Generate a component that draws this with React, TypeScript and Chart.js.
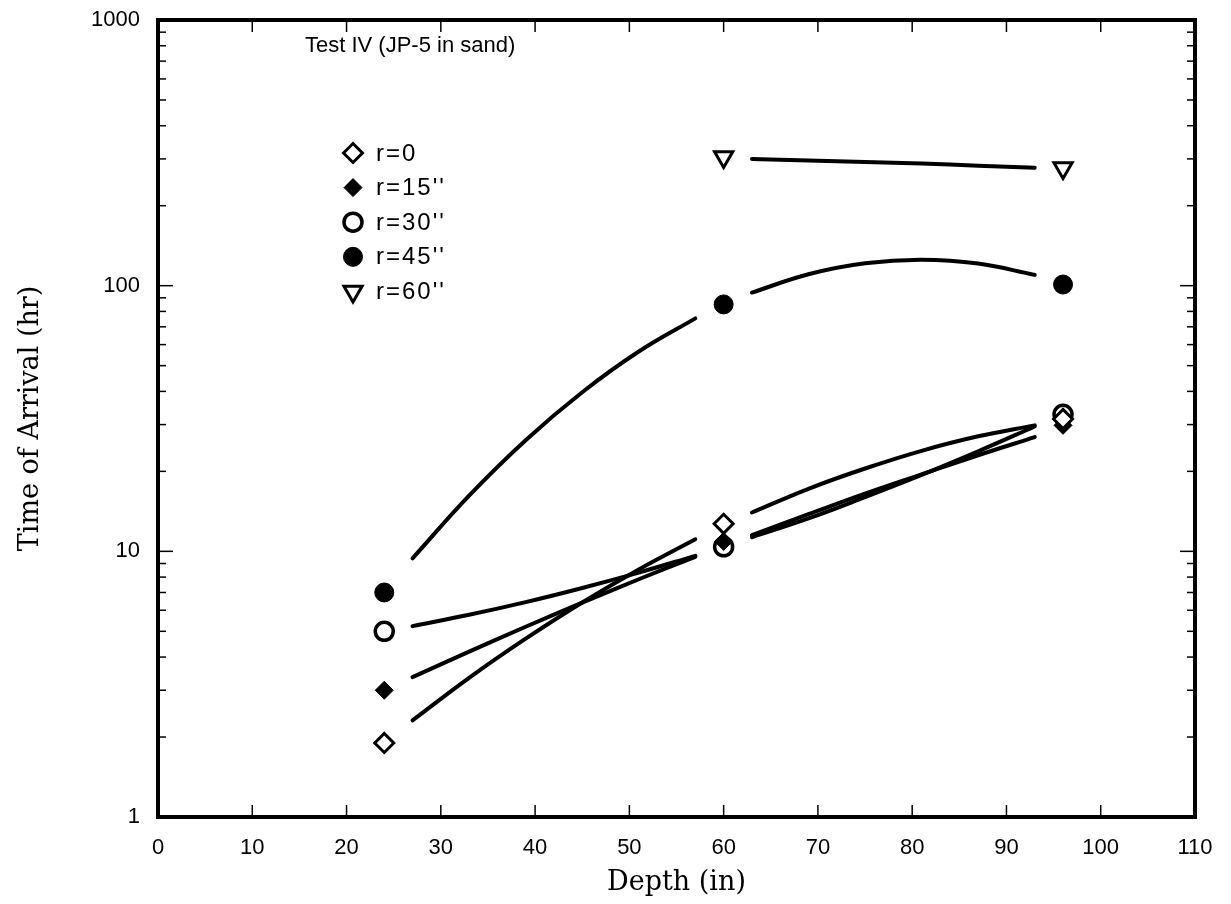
import React, { useEffect, useRef } from 'react';
import { Chart, registerables } from 'chart.js';
import { drawPoint } from 'chart.js/helpers';

Chart.register(...registerables);

// ---- data ----
const DEPTHS = [24, 60, 96];
const R0_VALUES = [1.9, 12.7, 31.5];
const R15_VALUES = [3.0, 10.9, 29.8];
const R30_VALUES = [5.0, 10.4, 32.8];
const R45_VALUES = [7.0, 85, 101];
const R60_DEPTHS = [60, 96];
const R60_VALUES = [305, 277];

// fitted curves drawn between the markers
const CURVE_X_LEFT = [27, 33, 39, 45, 51, 57];
const CURVE_X_RIGHT = [63, 69, 75, 81, 87, 93];
const R0_CURVE_LEFT = [2.31, 3.34, 4.69, 6.42, 8.55, 11.1];
const R0_CURVE_RIGHT = [14.0, 17.2, 20.5, 23.9, 27.1, 29.8];
const R15_CURVE_LEFT = [3.36, 4.19, 5.2, 6.41, 7.85, 9.54];
const R15_CURVE_RIGHT = [11.5, 13.8, 16.5, 19.5, 23.0, 26.9];
const R30_CURVE_LEFT = [5.23, 5.77, 6.44, 7.28, 8.32, 9.62];
const R30_CURVE_RIGHT = [11.3, 13.3, 16.0, 19.4, 23.8, 29.5];
const R45_CURVE_LEFT = [9.41, 16.2, 26.2, 39.7, 56.5, 75.3];
const R45_CURVE_RIGHT = [94.2, 110.4, 121.4, 125.2, 121.1, 109.8];
const R60_CURVE_RIGHT = [300, 296, 292, 288, 283, 278];

const SERIES_LABELS = ['r=0', 'r=15\'\'', 'r=30\'\'', 'r=45\'\'', 'r=60\'\''];
const ANNOTATION = 'Test IV (JP-5 in sand)';
const X_TITLE = 'Depth (in)';
const Y_TITLE = 'Time of Arrival (hr)';

const X_TICKS = [0, 10, 20, 30, 40, 50, 60, 70, 80, 90, 100, 110];
const Y_MAJOR = [1, 10, 100, 1000];
const Y_MINOR_FACTORS = [2, 3, 4, 5, 6, 7, 8, 9];

// ---- styles ----
const MARKER_STYLES = [
  { pointStyle: 'rectRot', radius: 9.5, borderWidth: 3, fill: '#fff', rotation: 0 },
  { pointStyle: 'rectRot', radius: 9, borderWidth: 1, fill: '#000', rotation: 0 },
  { pointStyle: 'circle', radius: 9, borderWidth: 3.5, fill: '#fff', rotation: 0 },
  { pointStyle: 'circle', radius: 9.5, borderWidth: 1, fill: '#000', rotation: 0 },
  { pointStyle: 'triangle', radius: 10.5, borderWidth: 3, fill: '#fff', rotation: 180 },
];
const MARKER_ORDER = [0, 1, 2, 3, 3];

const TICK_FONT = { family: '"Liberation Sans", Arial, sans-serif', size: 22 };
const LEGEND_FONT = '24px "Liberation Sans", Arial, sans-serif';
const ANNOTATION_FONT = '22px "Liberation Sans", Arial, sans-serif';
const TITLE_FONT = { family: '"DejaVu Serif", serif', size: 27 };

const pairs = (xs: number[], ys: (number | null)[]) => xs.map((x, i) => ({ x, y: ys[i] }));
const curve = (left: number[] | null, right: number[]) => [
  ...(left ? pairs(CURVE_X_LEFT, left) : []),
  ...(left ? [{ x: 60, y: null }] : []),
  ...pairs(CURVE_X_RIGHT, right),
];

const framePlugin = {
  id: 'frameTicks',
  afterDatasetsDraw(chart: any) {
    const { ctx, chartArea: a, scales } = chart;
    const x = scales.x;
    const y = scales.y;
    ctx.save();
    ctx.strokeStyle = '#000';
    ctx.lineCap = 'butt';
    const seg = (x1: number, y1: number, x2: number, y2: number, w: number) => {
      ctx.lineWidth = w;
      ctx.beginPath();
      ctx.moveTo(x1, y1);
      ctx.lineTo(x2, y2);
      ctx.stroke();
    };
    X_TICKS.forEach((v) => {
      const px = x.getPixelForValue(v);
      seg(px, a.bottom, px, a.bottom - 12, 1.5);
      seg(px, a.top, px, a.top + 12, 1.5);
    });
    Y_MAJOR.forEach((d) => {
      const py = y.getPixelForValue(d);
      seg(a.left, py, a.left + 15, py, 1.5);
      seg(a.right, py, a.right - 15, py, 1.5);
      if (d < 1000) {
        Y_MINOR_FACTORS.forEach((f) => {
          const pm = y.getPixelForValue(d * f);
          seg(a.left, pm, a.left + 8, pm, 1.5);
          seg(a.right, pm, a.right - 8, pm, 1.5);
        });
      }
    });
    ctx.lineWidth = 4;
    ctx.lineJoin = 'miter';
    ctx.strokeRect(a.left, a.top, a.right - a.left, a.bottom - a.top);
    ctx.restore();
  },
};

const labelPlugin = {
  id: 'labels',
  afterDraw(chart: any) {
    const { ctx, chartArea: a } = chart;
    ctx.save();
    ctx.fillStyle = '#000';
    ctx.font = ANNOTATION_FONT;
    ctx.textBaseline = 'middle';
    ctx.textAlign = 'left';
    ctx.fillText(ANNOTATION, a.left + 147, a.top + 26);
    const mx = a.left + 195;
    const ty = a.top + 133;
    ctx.font = LEGEND_FONT;
    (ctx as any).letterSpacing = '2px';
    SERIES_LABELS.forEach((label, i) => {
      const st = MARKER_STYLES[i];
      const py = ty + i * 34.6;
      ctx.fillStyle = st.fill;
      ctx.strokeStyle = '#000';
      ctx.lineWidth = st.borderWidth;
      drawPoint(ctx, { pointStyle: st.pointStyle as any, rotation: st.rotation, radius: st.radius, borderWidth: st.borderWidth }, mx, py);
      ctx.fillStyle = '#000';
      ctx.fillText(label, mx + 23, py + 1);
    });
    ctx.restore();
  },
};

export default function App() {
  const ref = useRef<HTMLCanvasElement | null>(null);
  useEffect(() => {
    if (!ref.current) return;
    const markerSets = [
      pairs(DEPTHS, R0_VALUES),
      pairs(DEPTHS, R15_VALUES),
      pairs(DEPTHS, R30_VALUES),
      pairs(DEPTHS, R45_VALUES),
      pairs(R60_DEPTHS, R60_VALUES),
    ];
    const markerDatasets = markerSets.map((data, i) => {
      const st = MARKER_STYLES[i];
      return {
        label: SERIES_LABELS[i],
        data,
        showLine: false,
        order: MARKER_ORDER[i],
        pointStyle: st.pointStyle,
        pointRadius: st.radius,
        pointBorderWidth: st.borderWidth,
        pointBackgroundColor: st.fill,
        pointBorderColor: '#000',
        pointRotation: st.rotation,
        borderColor: '#000',
        backgroundColor: st.fill,
      };
    });
    const curveSets = [
      curve(R0_CURVE_LEFT, R0_CURVE_RIGHT),
      curve(R15_CURVE_LEFT, R15_CURVE_RIGHT),
      curve(R30_CURVE_LEFT, R30_CURVE_RIGHT),
      curve(R45_CURVE_LEFT, R45_CURVE_RIGHT),
      curve(null, R60_CURVE_RIGHT),
    ];
    const curveDatasets = curveSets.map((data, i) => ({
      label: SERIES_LABELS[i] + ' fit',
      data,
      showLine: true,
      spanGaps: false,
      order: 10,
      borderColor: '#000',
      borderWidth: 4,
      tension: 0.4,
      pointRadius: 0,
      borderCapStyle: 'round',
      fill: false,
    }));

    const chart = new Chart(ref.current, {
      type: 'scatter',
      data: { datasets: [...markerDatasets, ...curveDatasets] as any },
      options: {
        animation: false,
        responsive: false,
        maintainAspectRatio: false,
        layout: { padding: { left: 0, top: 20, right: 36, bottom: 0 } },
        plugins: { legend: { display: false }, tooltip: { enabled: false }, title: { display: false } },
        scales: {
          x: {
            type: 'linear',
            min: 0,
            max: 110,
            afterBuildTicks: (s: any) => { s.ticks = X_TICKS.map((value) => ({ value })); },
            afterFit: (s: any) => { s.height = 87; s.paddingLeft = 0; s.paddingRight = 0; },
            ticks: { color: '#000', font: TICK_FONT, padding: 18, maxRotation: 0, callback: (v: any) => String(v) },
            grid: { display: false, drawTicks: false },
            border: { display: false },
            title: { display: true, text: X_TITLE, color: '#000', font: TITLE_FONT, padding: { top: 0, bottom: 5 } },
          },
          y: {
            type: 'logarithmic',
            min: 1,
            max: 1000,
            afterBuildTicks: (s: any) => { s.ticks = Y_MAJOR.map((value) => ({ value })); },
            afterFit: (s: any) => { s.width = 158; s.paddingTop = 0; s.paddingBottom = 0; },
            ticks: { color: '#000', font: TICK_FONT, padding: 18, callback: (v: any) => String(v) },
            grid: { display: false, drawTicks: false },
            border: { display: false },
            title: { display: true, text: Y_TITLE, color: '#000', font: TITLE_FONT, padding: { top: 15, bottom: 0 } },
          },
        },
      },
      plugins: [framePlugin, labelPlugin],
    } as any);
    return () => chart.destroy();
  }, []);
  return (
    <div style={{ position: 'absolute', left: 0, top: 0, width: 1231, height: 904, background: '#fff' }}>
      <canvas ref={ref} width={1231} height={904} style={{ display: 'block', width: 1231, height: 904 }} />
    </div>
  );
}
